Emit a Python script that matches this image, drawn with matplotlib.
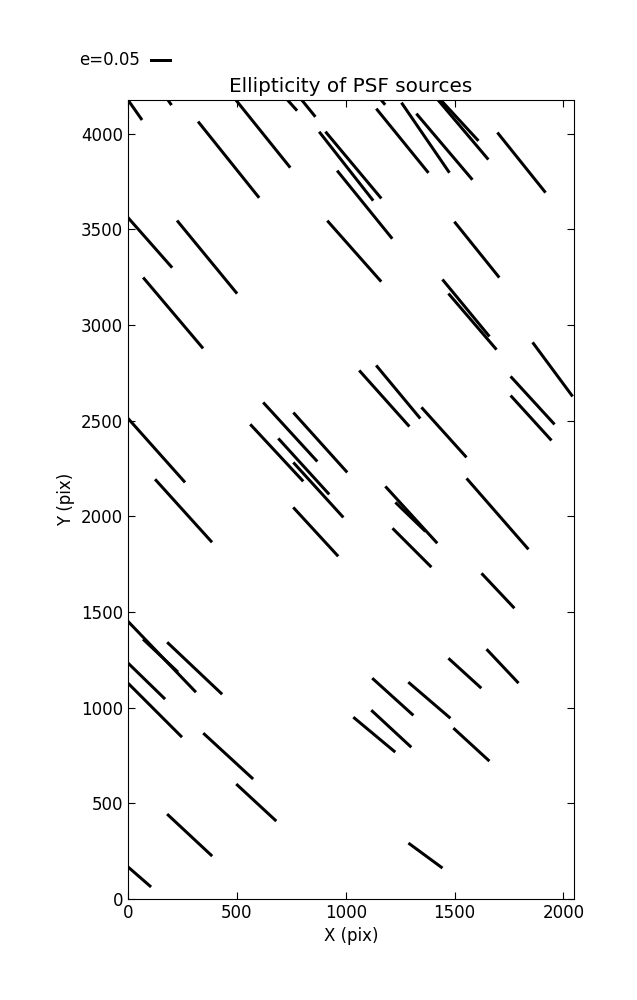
import matplotlib
matplotlib.use("Agg")
import matplotlib.pyplot as plt
import numpy as np

# PSF source positions on the chip (pix) and ellipticity (modulus, angle in deg)
x_pos = [0, 147, 614, 715, 788, 462, 1002, 1035, 1087, 1039,
         83, 363, 207, 1122, 1260, 1366, 1453, 1533, 1515, 1807,
         1602, 1552, 1582, 122, 255, 683, 745, 883, 807, 874,
         1177, 1241, 1451, 1301, 1297, 1697, 1858, 1851, 1950, 1304,
         1699, 1547, 1720, 1216, 1384, 862, 149, 149, 306, 76,
         115, 460, 589, 283, 44, 1131, 1209, 1577, 1366]
y_pos = [4176, 4235, 4008, 4198, 4190, 3864, 3830, 3836, 3629, 3386,
         3454, 3355, 3063, 4231, 3963, 3979, 3932, 4029, 4079, 3849,
         3394, 3089, 3018, 2356, 2029, 2332, 2441, 2386, 2261, 2138,
         2616, 2650, 2439, 2008, 1997, 2013, 2606, 2514, 2768, 1836,
         1611, 1180, 1217, 1057, 1039, 1919, 1274, 1272, 1206, 1149,
         997, 747, 504, 334, 124, 859, 890, 807, 227]
e_mod = [0.111, 0.091, 0.207, 0.091, 0.114, 0.222, 0.199, 0.198, 0.199, 0.185,
         0.179, 0.215, 0.211, 0.091, 0.188, 0.193, 0.197, 0.187, 0.138, 0.175,
         0.163, 0.168, 0.168, 0.208, 0.193, 0.177, 0.182, 0.183, 0.172, 0.169,
         0.171, 0.157, 0.153, 0.175, 0.095, 0.214, 0.148, 0.138, 0.153, 0.125,
         0.109, 0.101, 0.106, 0.126, 0.126, 0.151, 0.233, 0.109, 0.172, 0.130,
         0.186, 0.154, 0.124, 0.140, 0.081, 0.124, 0.124, 0.111, 0.096]
e_ang = [-55, -55, -51.2, -48, -51, -51.3, -51.9, -50.1, -51.0, -48.5,
         -48.6, -50.6, -49.8, -50, -50.9, -55.6, -49.7, -49.8, -47.3, -51.3,
         -51.2, -50.5, -49.4, -48.3, -47.9, -47.1, -47.5, -48.0, -47.7, -47.7,
         -48.2, -50.3, -48.0, -47.6, -44.0, -48.9, -47.5, -47.7, -53.5, -45.0,
         -46.7, -42.3, -46.7, -42.1, -40.6, -47.4, -46.2, -43.3, -43.4, -44.2,
         -45.0, -42.6, -42.8, -43.0, -41.0, -39.8, -42.8, -42.5, -36.3]

key_e = 0.05

plt.rcParams["font.size"] = 12
plt.rcParams["xtick.direction"] = "in"
plt.rcParams["ytick.direction"] = "in"
plt.rcParams["xtick.top"] = True
plt.rcParams["ytick.right"] = True

fig, ax = plt.subplots(figsize=(6.37, 10), dpi=100)
fig.subplots_adjust(left=0.201, right=0.901, bottom=0.101, top=0.9)

theta = np.radians(e_ang)
u = np.array(e_mod) * np.cos(theta)
v = np.array(e_mod) * np.sin(theta)

# headless arrows -> whisker plot
q = ax.quiver(x_pos, y_pos, u, v, pivot="middle", color="k",
              headwidth=0, headlength=0, headaxislength=0,
              units="dots", width=3,
              scale_units="inches", scale=key_e / 0.22)
ax.quiverkey(q, 0.2355, 0.94, key_e, "e=%.2f" % key_e, labelpos="W",
             coordinates="figure", fontproperties={"size": 12})

ax.set_xlim(0, 2048)
ax.set_ylim(0, 4176)
ax.set_xticks(np.arange(0, 2001, 500))
ax.set_yticks(np.arange(0, 4001, 500))
ax.tick_params(length=5, width=0.8)
ax.set_xlabel("X (pix)")
ax.set_ylabel("Y (pix)")
ax.set_title("Ellipticity of PSF sources", fontsize=14.4)

fig.savefig("out.png", dpi=100)
